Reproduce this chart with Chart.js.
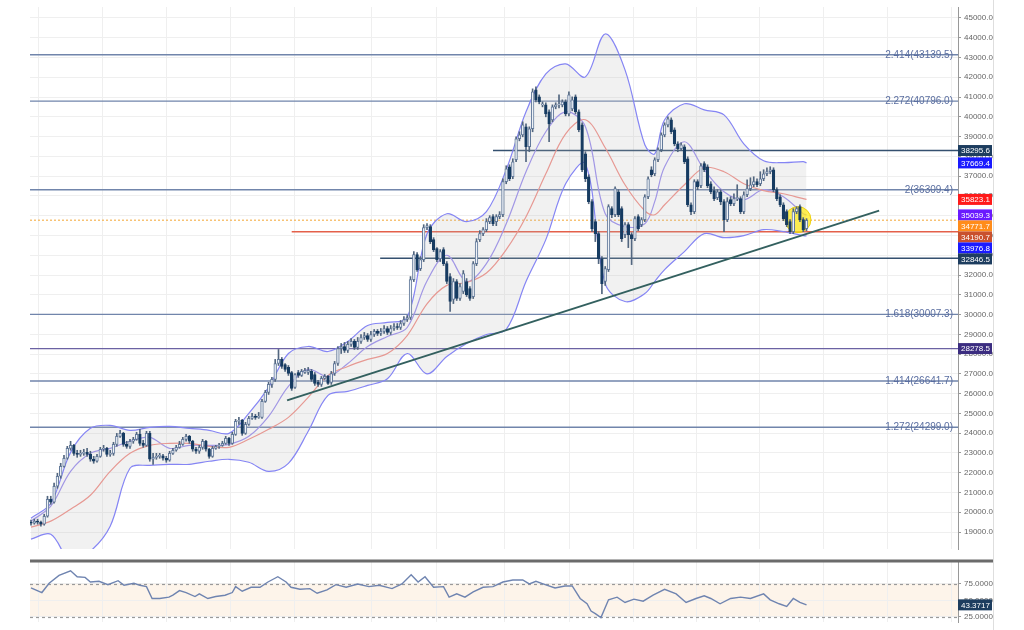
<!DOCTYPE html>
<html>
<head>
<meta charset="utf-8">
<script src="https://cdn.jsdelivr.net/npm/chart.js@4.4.1/dist/chart.umd.min.js"></script>
<style>
  html, body { margin: 0; padding: 0; background: #fff; }
  #wrap { position: relative; width: 1024px; height: 630px; overflow: hidden; background: #fff; }
  #main { position: absolute; left: 0; top: -7px; }
  #rsi { position: absolute; left: 0; top: 550px; }
</style>
</head>
<body>
<div id="wrap">
  <canvas id="main" width="1024" height="570"></canvas>
  <canvas id="rsi" width="1024" height="80"></canvas>
</div>
<script>
// candles, one per bar: [open, high, low, close]
const ohlc = [
  [19500,19600,19345,19445],[19445,19650,19395,19550],[19550,19650,19395,19500],[19500,19550,19295,19395],
  [19395,19900,19345,19800],[19800,20810,19750,20660],[20660,20810,20405,20505],[20505,21470,20455,21315],
  [21315,21970,21215,21820],[21820,22477,21720,22325],[22325,22880,22275,22730],[22730,23335,22680,23235],
  [23235,23590,23135,23385],[23385,23435,22880,22980],[22980,23135,22780,22930],[22930,23135,22830,22980],
  [22980,23185,22880,23030],[23030,23235,22830,22930],[22930,23085,22580,22680],[22680,22830,22477,22580],
  [22580,22930,22528,22830],[22830,23285,22780,23185],[23185,23385,23085,23235],[23235,23285,22830,22930],
  [22930,23135,22830,22980],[22980,23540,22880,23435],[23435,23990,23335,23840],[23840,24145,23790,23990],
  [23990,24045,23335,23435],[23435,23590,23235,23335],[23335,23690,23235,23590],[23590,23790,23487,23690],
  [23690,24045,23640,23940],[23940,24195,23385,23487],[23487,23640,23285,23385],[23385,24095,23335,23990],
  [23990,24095,22580,22680],[22680,22980,22426,22780],[22780,22980,22680,22830],[22830,22980,22730,22850],
  [22850,22930,22630,22730],[22730,22830,22528,22630],[22630,23085,22580,22980],[22980,23235,22930,23135],
  [23135,23385,23085,23285],[23285,23590,23235,23435],[23435,23790,23385,23690],[23690,23940,23590,23840],
  [23840,23890,23487,23590],[23590,23640,23085,23185],[23185,23285,22980,23085],[23085,23385,22980,23285],
  [23285,23690,23185,23590],[23590,23640,23085,23185],[23185,23235,22730,22830],[22830,23335,22780,23235],
  [23235,23385,23185,23335],[23335,23487,23235,23385],[23385,23590,23335,23487],[23487,23840,23435,23740],
  [23740,23790,23385,23487],[23487,24045,23435,23940],[23940,24700,23890,24600],[24600,24800,24447,24650],
  [24650,24700,23890,23990],[23990,24550,23940,24447],[24447,24850,24395,24750],[24750,25000,24700,24850],
  [24850,24950,24700,24800],[24800,25050,24750,24850],[24800,25710,24750,25610],[25610,26165,25560,26060],
  [26060,26570,25960,26465],[26465,26820,26315,26720],[26720,27730,26620,27525],[27525,28235,27425,27730],
  [27730,27830,27275,27375],[27475,27525,27125,27225],[27325,27425,26920,27020],[27070,27125,26165,26265],
  [26315,27020,26265,26970],[27070,27175,26820,26920],[26920,27225,26870,27125],[27070,27275,27020,27175],
  [27070,27325,26970,27175],[27125,27225,26620,26720],[26970,27070,26415,26515],[26570,26670,26365,26465],
  [26465,26870,26365,26770],[26770,26970,26720,26870],[26870,26920,26465,26515],[26570,27125,26465,27020],
  [27020,27630,26920,27525],[27525,28385,27425,28285],[28285,28537,28030,28385],[28385,28590,28080,28185],
  [28185,28640,28080,28490],[28490,28790,28385,28640],[28640,28740,28235,28335],[28335,28840,28235,28640],
  [28640,28990,28537,28840],[28840,29095,28740,28940],[28940,29040,28640,28740],[28740,29145,28640,28990],
  [28990,29245,28890,29145],[29145,29245,28940,29040],[29040,29295,28940,29145],[29145,29446,29040,29295],
  [29295,29395,28990,29095],[29095,29446,28990,29295],[29295,29547,29195,29395],[29395,29547,29245,29345],
  [29345,29700,29245,29547],[29547,29900,29446,29750],[29750,29950,29650,29850],[29850,31920,29750,31770],
  [31770,33185,31670,33030],[33030,33130,32175,32275],[32325,32930,32225,32780],[32780,34545,32680,34395],
  [34395,34597,34295,34495],[34445,34545,33585,33690],[33790,33890,33185,33285],[33335,33385,32680,32780],
  [32830,33285,32680,33185],[33285,33385,32475,32575],[32575,32680,31565,31670],[31920,32070,30155,30660],
  [30760,31820,30555,31670],[31670,31770,30710,30810],[30810,31565,30710,31415],[31165,32225,31060,32070],
  [31670,31820,30910,31010],[31315,31415,30710,30810],[30910,32680,30810,32575],[32575,33840,32475,33690],
  [33790,34245,33690,34090],[34090,34395,33990,34295],[34295,34850,34195,34700],[34700,35000,34597,34900],
  [34950,35050,34495,34597],[34700,35050,34495,34950],[34950,35205,34850,35050],[35050,36870,34950,36720],
  [36720,37525,36615,37375],[37475,37575,36770,36870],[36970,37880,36870,37730],[37830,38990,37730,38890],
  [38890,39245,38785,39090],[39090,39750,38990,39595],[39495,39645,37730,38485],[38485,39495,38235,39395],
  [39395,41415,39245,41260],[41365,41515,40760,40860],[41010,41110,40660,40760],[40605,40760,40505,40660],
  [40605,40710,40000,40150],[40255,40355,38740,39645],[39850,40605,39750,40505],[40505,40710,40405,40605],
  [40605,41110,40455,40660],[40605,40860,40505,40760],[40760,40860,40050,40150],[40150,41260,40050,41110],
  [40405,41010,40305,40860],[41010,41110,40150,40255],[40255,40355,39245,39345],[39595,39700,37225,37325],
  [38130,38235,36720,36870],[36970,37070,35605,35710],[35710,35810,34195,34345],[34700,34800,33690,34090],
  [34090,34195,32575,32830],[32830,32930,31060,31565],[31670,32430,31470,32325],[32275,35555,32175,35455],
  [35355,35455,34900,35050],[35050,36465,34950,36365],[36210,36315,34950,35050],[35355,35455,33690,33840],
  [34040,34650,33890,34545],[34545,34650,33385,34040],[34040,34140,32525,33840],[33840,34950,33740,34850],
  [34950,35050,34245,34345],[34545,34900,34445,34800],[34800,36060,34700,35960],[35960,36970,35860,36870],
  [37325,37475,36970,37070],[37120,37930,37020,37830],[37830,38435,37730,38335],[38335,39190,38235,39090],
  [39090,39700,38990,39595],[39595,40000,39495,39900],[39850,39950,39145,39245],[39345,39445,38535,38635],
  [38635,38740,38235,38385],[38385,38685,38285,38585],[38485,38585,37630,37730],[37880,37980,35455,35555],
  [35555,35655,35050,35205],[35205,36820,35100,36720],[36720,36820,36315,36465],[36515,37630,36415,37525],
  [37630,37730,37225,37325],[37475,37575,36415,36515],[36615,36720,36110,36210],[36265,36465,35760,35860],
  [35910,36315,35810,36210],[36210,36315,35555,35710],[35710,35810,34195,34800],[34800,35910,34700,35710],
  [35810,35960,35505,35605],[35605,36110,35505,35860],[35860,36565,35760,35910],[35860,35960,35100,35205],
  [35205,36210,35100,36060],[36060,36820,35960,36365],[36365,36920,36265,36565],[36565,36970,36465,36720],
  [36720,36870,36465,36565],[36615,37225,36515,36870],[36870,37325,36770,37120],[37120,37425,37020,37225],
  [37225,37475,37120,37325],[37325,37425,36210,36315],[36315,36415,35760,35860],[35960,36060,35455,35555],
  [35555,35655,34750,34850],[35205,35300,34445,34545],[34700,34800,34090,34195],[34195,35355,34090,35205],
  [35205,35455,35100,35355],[35455,35555,34700,34800],[34800,34900,34195,34295],[34345,34850,34245,34770]
];

// Bollinger bands and fast average, read at these bar positions
const bandIdx  = [0, 6, 12, 18, 24, 30, 36, 42, 48, 54, 60, 66, 72, 78, 84, 90, 96, 102, 108, 114, 120, 126, 132, 138, 144, 150, 156, 162, 168, 174, 180, 186, 189, 192, 198, 204, 210, 216, 222, 228, 234, 235];
const bbUpper  = [19700, 20455, 23030, 24245, 24395, 24145, 24295, 24345, 24245, 24145, 23990, 25000, 26315, 28030, 28385, 28130, 28640, 29445, 29600, 29850, 34090, 35100, 34700, 35205, 37325, 40255, 42170, 42680, 42020, 44190, 42375, 38585, 38130, 39850, 40660, 40355, 40100, 38635, 37780, 37680, 37730, 37669.4];
const bbMiddle = [19245, 19550, 20155, 20860, 22070, 22980, 23385, 23485, 23485, 23335, 23285, 23690, 24195, 24800, 25810, 26920, 27375, 27730, 28030, 28940, 30545, 31475, 31620, 32100, 33285, 34950, 37120, 39140, 39850, 38435, 36565, 35250, 35050, 35555, 36565, 37425, 37225, 36615, 36265, 36110, 35860, 35823.1];
const bbLower  = [18640, 18890, 17530, 18030, 19295, 22225, 22375, 22425, 22425, 22580, 22680, 22530, 22070, 22475, 24095, 25910, 26115, 26415, 26750, 28030, 27000, 27880, 28535, 28990, 29245, 31670, 33790, 36615, 37630, 31565, 30658, 31060, 31670, 32275, 33185, 34090, 33890, 33990, 34295, 34195, 33990, 33976.8];
const maFast   = [19550, 20305, 22070, 22980, 23235, 23590, 23790, 23235, 23385, 23385, 23435, 23840, 24850, 26365, 27225, 26870, 27525, 28385, 28890, 29345, 31700, 33000, 31670, 32575, 34595, 37225, 39245, 40255, 39495, 35100, 34445, 34595, 35710, 37475, 38740, 37325, 36210, 35810, 36315, 35960, 35100, 35039.3];

// fibonacci extension levels
const fibRatios = ['2.414', '2.272', '2', '1.618', '1.414', '1.272'];
const fibValues = [43139.5, 40796.0, 36309.4, 30007.3, 26641.7, 24299.0];

// other horizontal levels and the bar where each one starts
const markValues = [38295.6, 32846.5, 28278.5, 34771.7, 34190.7];
const markStart  = [140, 105.8, -0.3, -0.3, 79];

// trend line (bar, price)
const trendIdx = [77.6, 257];
const trendVal = [25658, 35254];

// highlighted spot
const spotIdx = 232.4;
const spotVal = 34800;

// price tags on the right axis
const tagValues = [38295.6, 37669.4, 35823.1, 35039.3, 34771.7, 34190.7, 33976.8, 32846.5, 28278.5];

// RSI
const rsiIdx = [0, 3.3, 5.5, 8.5, 12, 14, 16.4, 18, 20.6, 23.3, 26.4, 28.2, 31.2, 33, 35, 36.7, 39, 41.8, 43, 45, 47, 49.7, 51, 53.6, 56, 58.8, 61, 62, 64, 66.7, 69.4, 71.8, 74.8, 77.3, 78.8, 81.5, 84.5, 86.7, 89.7, 92.4, 95.5, 99, 102.4, 105.5, 109.4, 112.4, 115.2, 117.3, 119.4, 122, 125, 126.7, 129, 131.5, 134, 137, 140, 143, 146, 149, 151, 153, 155.8, 158.8, 161.8, 164, 166.4, 168.5, 169.7, 171, 172.7, 175, 177.6, 180, 182.7, 185.5, 188.5, 192, 195.5, 198.5, 201.5, 204, 206, 208.8, 212, 215, 218, 222, 224, 226.7, 229, 231, 233, 235];
const rsiVals = [69, 62, 76, 88, 95, 86, 85, 78, 79, 74, 80, 73, 76, 73, 71, 53, 53, 55, 58, 65, 62, 56, 60, 53, 56, 58, 62, 71, 64, 70, 70, 78, 86, 78, 70, 67, 68, 61, 66, 74, 70, 75, 71, 73, 68, 75, 89, 78, 86, 70, 71, 55, 60, 55, 63, 70, 71, 78, 81, 81, 75, 79, 74, 69, 72, 72, 53, 45, 34, 30, 24, 51, 55, 47, 52, 49, 58, 67, 60, 47, 53, 57, 53, 45, 53, 55, 53, 60, 51, 45, 41, 53, 47, 43.3717];
const rsiLast = 43.3717;

// axis ticks
const yTicks = [19000, 20000, 21000, 22000, 23000, 24000, 25000, 26000, 27000, 28000, 29000, 30000, 31000, 32000, 33000, 34000, 35000, 36000, 37000, 38000, 39000, 40000, 41000, 42000, 43000, 44000, 45000];
const rsiTicks = [25, 50, 75];
const gridIdx = [2.4, 21.8, 41.2, 60.6, 79.7, 103.3, 123.0, 143.6, 163.3, 182.7, 201.8, 220.9, 240.0, 259.4, 278.8];

const X_MIN = -0.3, X_MAX = 280.9;
const FONT = '"Liberation Sans", Arial, sans-serif';
Chart.defaults.font.family = FONT;

const tagColors = ['#1d3d5f', '#1a1aff', '#ff1a1a', '#6a1aff', '#ff8c1a', '#c9502e', '#1a1aff', '#1d3d5f', '#3b2d80'];
const markColors = ['#34506f', '#34506f', '#6b62a3', '#f5b454', '#e4604a'];
const markDash = [[], [], [], [2, 2], []];

function xAxis(flat) {
  const s = {
    type: 'linear', min: X_MIN, max: X_MAX, offset: false,
    afterBuildTicks: sc => { sc.ticks = gridIdx.map(v => ({ value: v })); },
    ticks: { display: false },
    grid: { color: '#efefef', drawTicks: false, offset: false },
    border: { display: false }
  };
  if (flat) s.afterFit = sc => { sc.height = 0; };
  return s;
}

function hLine(v, start, color, width, dash) {
  return {
    type: 'line', data: [{ x: start, y: v }, { x: X_MAX, y: v }],
    borderColor: color, borderWidth: width, borderDash: dash,
    pointRadius: 0, order: 8
  };
}

function bandLine(vals, color, width) {
  return {
    type: 'line', data: bandIdx.map((x, i) => ({ x, y: vals[i] })),
    borderColor: color, borderWidth: width, pointRadius: 0, tension: 0.35, order: 5
  };
}

const isUp = ohlc.map(c => c[3] >= c[0]);

const datasets = [];
fibValues.forEach(v => datasets.push(hLine(v, X_MIN, '#7185ab', 1.4, [])));
markValues.forEach((v, i) => datasets.push(hLine(v, markStart[i], markColors[i], i === 3 ? 1.2 : 1.4, markDash[i])));

const upperIndex = datasets.length;
datasets.push(bandLine(bbUpper, '#8585f4', 1.2));
const lower = bandLine(bbLower, '#8585f4', 1.2);
lower.fill = upperIndex;
lower.backgroundColor = 'rgba(185,185,185,0.2)';
datasets.push(lower);
datasets.push(bandLine(bbMiddle, '#f2918a', 1.2));
datasets.push(bandLine(maFast, '#9c8ff0', 1.2));

datasets.push({
  type: 'line', data: trendIdx.map((x, i) => ({ x, y: trendVal[i] })),
  borderColor: '#33605f', borderWidth: 2, pointRadius: 0, order: 3
});

datasets.push({
  type: 'line', data: [{ x: spotIdx, y: spotVal }], showLine: false,
  pointRadius: 13, pointBackgroundColor: 'rgba(255,234,20,0.72)',
  pointBorderColor: 'rgba(235,205,0,0.9)', pointBorderWidth: 1, order: 2
});

datasets.push({
  type: 'bar', data: ohlc.map((c, i) => ({ x: i, y: [c[2], c[1]] })),
  backgroundColor: '#52667f', barThickness: 1, grouped: false, order: 1
});

datasets.push({
  type: 'bar', data: ohlc.map((c, i) => ({ x: i, y: [c[0], c[3]] })),
  backgroundColor: isUp.map(u => u ? '#eef2f7' : '#173c62'),
  borderColor: isUp.map(u => u ? '#62799a' : '#173c62'),
  borderWidth: 1, borderSkipped: false, barThickness: 2.7, minBarLength: 1,
  grouped: false, order: 0
});

const mainPlugin = {
  id: 'mainDeco',
  afterDatasetsDraw(chart) {
    const { ctx, chartArea: a, scales: { y } } = chart;
    ctx.save();
    ctx.font = '10px ' + FONT;
    ctx.fillStyle = '#5a6ea0';
    ctx.textAlign = 'right';
    ctx.textBaseline = 'middle';
    fibRatios.forEach((r, i) => {
      ctx.fillText(r + '(' + fibValues[i].toFixed(1) + ')', a.right - 5, y.getPixelForValue(fibValues[i]));
    });
    ctx.restore();
  },
  afterDraw(chart) {
    const { ctx, chartArea: a, scales: { y } } = chart;
    ctx.save();
    const items = tagValues.map((v, i) => ({ v, c: tagColors[i], p: y.getPixelForValue(v) }))
      .sort((m, n) => m.p - n.p);
    let last = -Infinity;
    items.forEach(it => { if (it.p < last + 11) it.p = last + 11; last = it.p; });
    ctx.font = '8px ' + FONT;
    ctx.textAlign = 'left';
    ctx.textBaseline = 'middle';
    items.forEach(it => {
      ctx.fillStyle = it.c;
      ctx.fillRect(a.right, it.p - 5.5, 34, 11);
      ctx.fillStyle = '#ffffff';
      ctx.fillText(it.v.toFixed(1), a.right + 3, it.p + 0.5);
    });
    ctx.strokeStyle = '#dedede';
    ctx.lineWidth = 1;
    ctx.beginPath();
    ctx.moveTo(993.5, 0);
    ctx.lineTo(993.5, chart.height);
    ctx.stroke();
    ctx.restore();
  }
};

new Chart(document.getElementById('main'), {
  type: 'bar',
  data: { datasets },
  options: {
    responsive: false, animation: false, devicePixelRatio: 1,
    layout: { padding: { left: 30, top: 5, right: 0, bottom: 8 } },
    plugins: { legend: { display: false }, tooltip: { enabled: false } },
    scales: {
      x: xAxis(true),
      y: {
        position: 'right', min: 18142, max: 45555,
        afterBuildTicks: s => { s.ticks = yTicks.map(v => ({ value: v })); },
        afterFit: s => { s.width = 66; },
        ticks: { callback: v => Number(v).toFixed(1), font: { size: 8 }, color: '#666', padding: 3 },
        grid: { color: '#efefef', tickColor: '#999', tickLength: 3 },
        border: { color: '#999' }
      }
    }
  },
  plugins: [mainPlugin]
});

const rsiPlugin = {
  id: 'rsiDeco',
  beforeDraw(chart) {
    const { ctx, chartArea: a, scales: { y } } = chart;
    const t = y.getPixelForValue(75), b = y.getPixelForValue(25);
    ctx.save();
    ctx.fillStyle = '#fdf4ea';
    ctx.fillRect(a.left, t, a.right - a.left, b - t);
    ctx.restore();
  },
  beforeDatasetsDraw(chart) {
    const { ctx, chartArea: a, scales: { y } } = chart;
    ctx.save();
    ctx.strokeStyle = '#9a9a9a';
    ctx.lineWidth = 1.2;
    ctx.setLineDash([3, 3]);
    [75, 25].forEach(v => {
      const p = Math.round(y.getPixelForValue(v)) + 0.5;
      ctx.beginPath();
      ctx.moveTo(a.left, p);
      ctx.lineTo(a.right, p);
      ctx.stroke();
    });
    ctx.restore();
  },
  afterDraw(chart) {
    const { ctx, chartArea: a, scales: { y } } = chart;
    ctx.save();
    ctx.strokeStyle = '#6b6b6b';
    ctx.lineWidth = 3;
    ctx.beginPath();
    ctx.moveTo(a.left, a.top);
    ctx.lineTo(993, a.top);
    ctx.stroke();
    const p = y.getPixelForValue(rsiLast);
    ctx.fillStyle = '#1d3d5f';
    ctx.fillRect(a.right, p - 5.5, 34, 11);
    ctx.fillStyle = '#fff';
    ctx.font = '8px ' + FONT;
    ctx.textBaseline = 'middle';
    ctx.fillText(rsiLast.toFixed(4), a.right + 3, p + 0.5);
    ctx.strokeStyle = '#dedede';
    ctx.lineWidth = 1;
    ctx.beginPath();
    ctx.moveTo(993.5, 0);
    ctx.lineTo(993.5, chart.height);
    ctx.stroke();
    ctx.restore();
  }
};

new Chart(document.getElementById('rsi'), {
  type: 'line',
  data: {
    datasets: [{
      data: rsiIdx.map((x, i) => ({ x, y: rsiVals[i] })),
      borderColor: '#6f84b0', borderWidth: 1.4, pointRadius: 0, tension: 0
    }]
  },
  options: {
    responsive: false, animation: false, devicePixelRatio: 1,
    layout: { padding: { left: 30, top: 11, right: 0, bottom: 8 } },
    plugins: { legend: { display: false }, tooltip: { enabled: false } },
    scales: {
      x: xAxis(false),
      y: {
        position: 'right', min: 17.4, max: 109.8,
        afterBuildTicks: s => { s.ticks = rsiTicks.map(v => ({ value: v })); },
        afterFit: s => { s.width = 66; },
        ticks: { callback: v => Number(v).toFixed(4), font: { size: 8 }, color: '#666', padding: 3 },
        grid: { color: '#efefef', tickColor: '#999', tickLength: 3 },
        border: { color: '#999' }
      }
    }
  },
  plugins: [rsiPlugin]
});
</script>
</body>
</html>
